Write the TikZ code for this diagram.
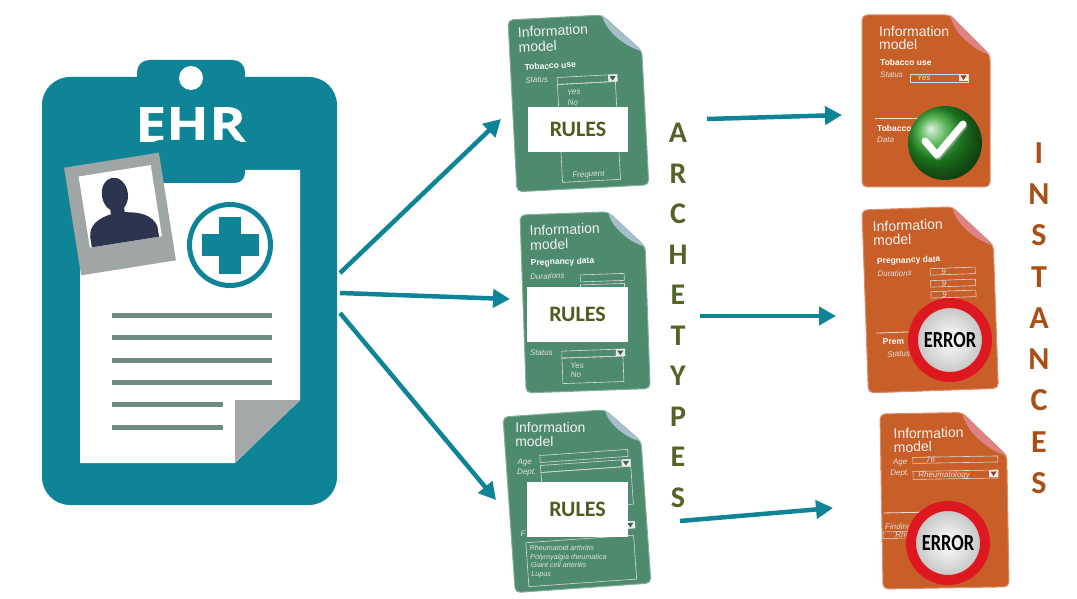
\documentclass[tikz,border=0pt]{standalone}
\usepackage{fontspec}
\setmainfont{Liberation Sans}
\newfontfamily\calib{Carlito}
\newfontfamily\ehrfont{Open Sans}
\usepackage{graphicx}
\usetikzlibrary{arrows.meta,positioning,shadings}

\definecolor{ehrteal}{RGB}{14,132,150}
\definecolor{sheetgray}{RGB}{112,138,132}
\definecolor{foldgray}{RGB}{165,168,168}
\definecolor{photogray}{RGB}{160,165,165}
\definecolor{person}{RGB}{44,52,80}
\definecolor{archgreen}{RGB}{78,139,110}
\definecolor{foldblue}{RGB}{168,190,204}
\definecolor{instorange}{RGB}{200,94,40}
\definecolor{foldpink}{RGB}{222,130,134}
\definecolor{rulesolive}{RGB}{82,90,32}
\definecolor{archolive}{RGB}{84,100,40}
\definecolor{instbrown}{RGB}{168,80,22}
\definecolor{errred}{RGB}{222,24,32}
\definecolor{okgreen}{RGB}{40,160,40}

\tikzset{
  flow/.style={line width=4.5pt, draw=ehrteal, -{Triangle[length=17pt,width=18pt]}},
  sheetline/.style={line width=5pt, draw=sheetgray},
  ehrlabel/.style={text=white, inner sep=0pt, font=\ehrfont\bfseries\fontsize{49}{49}\selectfont},
  infotitle/.style={anchor=base west, inner sep=0pt, text=white!95!black, font=\fontsize{14}{14}\selectfont},
  fieldhead/.style={anchor=base west, inner sep=0pt, text=white, font=\fontsize{8.5}{8.5}\selectfont\bfseries},
  fieldlbl/.style={anchor=base west, inner sep=0pt, text=white!88!black, font=\fontsize{8}{8}\selectfont\itshape},
  listlbl/.style={fieldlbl, font=\fontsize{7.2}{7.2}\selectfont\itshape},
  fieldbox/.style={draw=white!85!black, line width=0.6pt},
  rulesbox/.style={fill=white, inner sep=0pt, text=rulesolive, font=\calib\bfseries\fontsize{22}{22}\selectfont},
  archletter/.style={text=archolive, inner sep=0pt, font=\calib\bfseries\fontsize{30}{30}\selectfont},
  instletter/.style={text=instbrown, inner sep=0pt, font=\calib\bfseries\fontsize{32}{32}\selectfont},
  okball/.style={circle, minimum size=74pt, inner sep=0pt, shading=ball, ball color=okgreen},
  errsign/.style={circle, minimum size=74pt, inner sep=0pt, draw=errred, line width=10pt,
    inner color=white, outer color=black!25, font=\calib\bfseries\fontsize{23}{23}\selectfont},
}

% sheet with turned-down corner: width, height, fold, body, flap
\newcommand{\infosheet}[5]{%
  \fill[#4, draw=#4!70!white, line width=1pt, rounded corners=5pt]
    (0,0) -- (#1-#3,0) -- (#1,#3) -- (#1,#2) -- (0,#2) -- cycle;
  \fill[#5] (#1-#3,0) -- (#1,#3) .. controls (#1-0.35*#3,0.9*#3) and (#1-0.9*#3,0.5*#3) .. (#1-#3,0) -- cycle;
}
% little drop-down marker
\newcommand{\dropmark}[3]{%
  \fill[white!92!black] (#1,#2) rectangle ++(9,7);
  \fill[#3!70!black] (#1+1.5,#2+1.5) -- (#1+7.5,#2+1.5) -- (#1+4.5,#2+6) -- cycle;
}

\begin{document}
\begin{tikzpicture}[x=1pt, y=-1pt]
  \useasboundingbox (0,0) rectangle (1077,599);
  \fill[white] (0,0) rectangle (1077,599);

  % clipboard
  \fill[ehrteal, rounded corners=12pt] (137,60) rectangle (245,100);
  \fill[ehrteal, rounded corners=28pt] (42,77) rectangle (337,505);
  \fill[white] (191,78) circle (12);
  \node[ehrlabel] (ehr) at (191,125) {\scalebox{1.15}[1]{EHR}};

  % record sheet
  \fill[white] (80,170) -- (300,170) -- (300,400) -- (235,463) -- (80,463) -- cycle;
  \fill[foldgray] (235,400) -- (300,400) -- (235,463) -- cycle;
  \fill[ehrteal, rounded corners=10pt] (150,140) rectangle (245,183);
  \foreach \y in {315,337,360,382}
    \draw[sheetline] (112,\y) -- (272,\y);
  \foreach \y in {404,427}
    \draw[sheetline] (112,\y) -- (223,\y);

  % medical cross
  \draw[ehrteal, line width=5pt] (230,245) circle (40.5);
  \fill[ehrteal] (219,216.5) rectangle (241,273.5);
  \fill[ehrteal] (201.5,234) rectangle (258.5,256);

  % photo
  \begin{scope}[shift={(120,214)}, rotate=9]
    \fill[photogray] (-48,-54.5) rectangle (48,54.5);
    \fill[white] (-35,-43.5) rectangle (38,28.5);
    \fill[person] (-9,-8) rectangle (5,2);
    \fill[person] (-33,28.5) -- (-33,18) .. controls (-32,6) and (-22,1) .. (-10,-1)
      -- (5,-1) .. controls (20,1) and (32,6) .. (35,18) -- (35,28.5) -- cycle;
    \fill[person] (-2,-20) ellipse (13 and 17);
  \end{scope}

  % archetypes
  \begin{scope}[shift={(508,20)}, rotate=3, transform shape, name prefix=g1-]
    \infosheet{132}{172}{38}{archgreen}{foldblue}
    \node[infotitle] (title) at (9,18) {Information};
    \node[infotitle] (model) at (9,33) {model};
    \node[fieldhead] (head) at (14,51) {Tobacco use};
    \node[fieldlbl] (status) at (14,64) {Status};
    \draw[fieldbox] (46,60) rectangle (106,67);
    \dropmark{97}{60}{archgreen}
    \draw[fieldbox] (46,67) rectangle (104,165);
    \node[fieldlbl] (yes) at (55,78) {Yes};
    \node[fieldlbl] (no) at (55,89) {No};
    \node[fieldlbl] (freq) at (56,161) {Frequent};
  \end{scope}

  \begin{scope}[shift={(520,215)}, rotate=2, transform shape, name prefix=g2-]
    \infosheet{124}{178}{36}{archgreen}{foldblue}
    \node[infotitle] (title) at (9,21) {Information};
    \node[infotitle] (model) at (9,35.5) {model};
    \node[fieldhead] (head) at (9,51) {Pregnancy data};
    \node[fieldlbl] (dur) at (8,65) {Durations};
    \draw[fieldbox] (58,62) rectangle (102,69);
    \draw[fieldbox] (58,72) rectangle (102,80);
    \node[fieldlbl] (status) at (5,141) {Status};
    \draw[fieldbox] (37,137.5) rectangle (100,144.5);
    \dropmark{91}{137.5}{archgreen}
    \draw[fieldbox] (37,144.5) rectangle (98,170);
    \node[fieldlbl] (yes) at (45,155.5) {Yes};
    \node[fieldlbl] (no) at (45,164) {No};
  \end{scope}

  % third sheet keeps its labels upright
  \begin{scope}[shift={(503,417)}, rotate=4, name prefix=g3-]
    \infosheet{136}{176}{34}{archgreen}{foldblue}
    \node[infotitle] (title) at (11,16) {Information};
    \node[infotitle] (model) at (10,30) {model};
    \node[fieldlbl] (age) at (11,48) {Age};
    \draw[fieldbox] (34,41) rectangle (122,48);
    \node[fieldlbl] (dept) at (10,58) {Dept.};
    \draw[fieldbox] (34,51) rectangle (124,58);
    \dropmark{115}{51}{archgreen}
    \draw[fieldbox] (34,58) rectangle (124,96);
    \node[fieldlbl] (find) at (9,120) {F};
    \draw[fieldbox] (34,113) rectangle (124,120);
    \dropmark{115}{113}{archgreen}
    \draw[fieldbox] (14,127) rectangle (122,171);
    \node[listlbl] (dx1) at (17,135.5) {Rheumatoid arthritis};
    \node[listlbl] (dx2) at (17,144) {Polymyalgia rheumatica};
    \node[listlbl] (dx3) at (17,152.5) {Giant cell arteritis};
    \node[listlbl] (dx4) at (17,161) {Lupus};
  \end{scope}

  \node[rulesbox, minimum width=100pt, minimum height=45pt] (rules1) at (578,129.5) {RULES};
  \node[rulesbox, minimum width=101pt, minimum height=55pt] (rules2) at (577.5,314.5) {RULES};
  \node[rulesbox, minimum width=101pt, minimum height=55pt] (rules3) at (577.5,509.5) {RULES};

  % instances
  \begin{scope}[shift={(862,15)}, name prefix=o1-]
    \infosheet{128}{172}{40}{instorange}{foldpink}
    \node[infotitle] (title) at (17,22) {Information};
    \node[infotitle] (model) at (17,35) {model};
    \node[fieldhead] (head) at (18,51) {Tobacco use};
    \node[fieldlbl] (status) at (18,63) {Status};
    \draw[fieldbox] (48,59) rectangle (106,67);
    \node[fieldlbl] (val) at (55,65.5) {Yes};
    \dropmark{97}{59}{instorange}
    \draw[white!80!instorange, line width=0.8pt] (13,103) -- (70,103);
    \node[fieldhead] (head2) at (15,117) {Tobacco};
    \node[fieldlbl] (data) at (15,128) {Data};
  \end{scope}

  \begin{scope}[shift={(862,210)}, rotate=2, transform shape, name prefix=o2-]
    \infosheet{130}{183}{40}{instorange}{foldpink}
    \node[infotitle] (title) at (10,22) {Information};
    \node[infotitle] (model) at (10,36) {model};
    \node[fieldhead] (head) at (13,54.5) {Pregnancy data};
    \node[fieldlbl] (dur) at (13,67.5) {Durations};
    \foreach \y/\n in {61/1,73/2,84/3} {
      \draw[fieldbox] (66,\y) rectangle (111,\y+6.5);
      \node[fieldlbl] (nine\n) at (77,\y+6) {9};
    }
    \draw[white!80!instorange, line width=0.8pt] (10,123.5) -- (70,123.5);
    \node[fieldhead] (head2) at (16,135.5) {Prem};
    \node[fieldlbl] (status) at (20,148) {Status};
  \end{scope}

  \begin{scope}[shift={(880,414)}, rotate=1, transform shape, name prefix=o3-]
    \infosheet{126}{175}{44}{instorange}{foldpink}
    \node[infotitle] (title) at (13,25) {Information};
    \node[infotitle] (model) at (13,38.5) {model};
    \node[fieldlbl] (age) at (12,51) {Age};
    \draw[fieldbox] (32,44) rectangle (117,50);
    \node[fieldlbl] (ageval) at (45,49.5) {76};
    \node[fieldlbl] (dept) at (9,62) {Dept.};
    \draw[fieldbox] (32,58) rectangle (117,66);
    \node[fieldlbl] (deptval) at (37,64.5) {Rheumatology};
    \dropmark{108}{58}{instorange}
    \draw[white!80!instorange, line width=0.8pt] (2,99) -- (60,99);
    \node[fieldlbl] (find) at (3,116) {Finding};
    \draw[fieldbox] (1,118) rectangle (40,124.5);
    \node[fieldlbl] (findval) at (13,123.5) {Rheu};
  \end{scope}

  % verdicts
  \node[okball] (ok1) at (945,143) {};
  \draw[black!30, line width=7pt, line cap=round, line join=round, opacity=0.5]
    (ok1.center) ++(-19,0) -- ++(12,14) -- ++(26,-31);
  \draw[white, line width=7pt, line cap=round, line join=round]
    (ok1.center) ++(-20,-2) -- ++(12,14) -- ++(26,-31);
  \node[errsign] (err2) at (950,340) {\scalebox{0.8}[1]{ERROR}};
  \node[errsign] (err3) at (948,543) {\scalebox{0.8}[1]{ERROR}};

  % column captions
  \foreach \ch [count=\i] in {A,R,C,H,E,T,Y,P,E,S}
    \node[archletter] (arch-\i) at (678,{133+40.5*(\i-1)}) {\ch};
  \foreach \ch [count=\i] in {I,N,S,T,A,N,C,E,S}
    \node[instletter] (inst-\i) at (1039,{153+41.25*(\i-1)}) {\ch};

  % connectors
  \coordinate (ehr-a) at (340,273);
  \coordinate (ehr-b) at (340,293);
  \coordinate (ehr-c) at (340,313);
  \coordinate (g1-in) at (501,119);
  \coordinate (g2-in) at (510,299);
  \coordinate (g3-in) at (496,500);
  \coordinate (g1-out) at (707,119);
  \coordinate (g2-out) at (700,316);
  \coordinate (g3-out) at (680,521);
  \coordinate (o1-in) at (842,115);
  \coordinate (o2-in) at (836,316);
  \coordinate (o3-in) at (833,508);
  \draw[flow] (ehr-a) -- (g1-in);
  \draw[flow] (ehr-b) -- (g2-in);
  \draw[flow] (ehr-c) -- (g3-in);
  \draw[flow] (g1-out) -- (o1-in);
  \draw[flow] (g2-out) -- (o2-in);
  \draw[flow] (g3-out) -- (o3-in);
\end{tikzpicture}
\end{document}
